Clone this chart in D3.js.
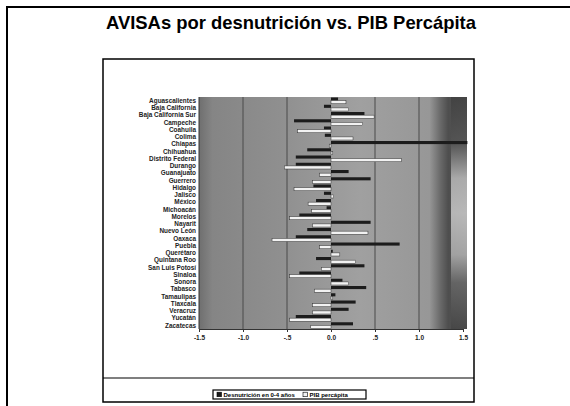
<!DOCTYPE html>
<html>
<head>
<meta charset="utf-8">
<script src="https://cdn.jsdelivr.net/npm/d3@7"></script>
<style>
  html, body { margin: 0; padding: 0; background: #fff; }
  svg { display: block; }
</style>
</head>
<body>
<svg id="chart" width="570" height="406"></svg>
<script>
// Estados de la República
const estados = [
  "Aguascalientes", "Baja California", "Baja California Sur", "Campeche",
  "Coahuila", "Colima", "Chiapas", "Chihuahua", "Distrito Federal", "Durango",
  "Guanajuato", "Guerrero", "Hidalgo", "Jalisco", "México", "Michoacán",
  "Morelos", "Nayarit", "Nuevo León", "Oaxaca", "Puebla", "Querétaro",
  "Quintana Roo", "San Luis Potosí", "Sinaloa", "Sonora", "Tabasco",
  "Tamaulipas", "Tlaxcala", "Veracruz", "Yucatán", "Zacatecas"
];

// AVISAs por desnutrición en 0-4 años (valores estandarizados)
const desnutricion = [
  0.08, -0.08, 0.38, -0.42, -0.08, -0.07, 1.55, -0.27, -0.40, -0.40,
  0.20, 0.45, -0.20, -0.08, -0.17, -0.05, -0.36, 0.45, -0.27, -0.40,
  0.78, 0.02, -0.17, 0.38, -0.36, 0.13, 0.40, 0.05, 0.28, 0.20,
  -0.40, 0.25
];

// PIB per cápita (valores estandarizados)
const pib = [
  0.17, 0.20, 0.49, 0.36, -0.38, 0.25, -0.02, 0.02, 0.80, -0.53,
  -0.13, -0.21, -0.42, 0.03, -0.26, -0.22, -0.47, -0.21, 0.42, -0.67,
  -0.13, 0.10, 0.28, -0.11, -0.47, 0.20, -0.19, 0.02, -0.21, -0.21,
  -0.47, -0.23
];

const xTicks = [-1.5, -1.0, -0.5, 0.0, 0.5, 1.0, 1.5];
const xTickLabels = ["-1.5", "-1.0", "-.5", "0.0", ".5", "1.0", "1.5"];
const series = ["Desnutrición en 0-4 años", "PIB percápita"];

const svg = d3.select("#chart");

// marco exterior
svg.append("path")
  .attr("d", "M7,406 V7 H570")
  .attr("fill", "none").attr("stroke", "#000").attr("stroke-width", 2);

// título
svg.append("text")
  .attr("x", 291).attr("y", 29)
  .attr("text-anchor", "middle")
  .attr("font-family", "'Liberation Sans', Arial, sans-serif")
  .attr("font-weight", "bold")
  .attr("font-size", 19)
  .attr("textLength", 370)
  .attr("lengthAdjust", "spacingAndGlyphs")
  .text("AVISAs por desnutrición vs. PIB Percápita");

// recuadro del gráfico
svg.append("rect")
  .attr("x", 103).attr("y", 59).attr("width", 371).attr("height", 343)
  .attr("fill", "none").attr("stroke", "#000").attr("stroke-width", 1.5);
svg.append("line")
  .attr("x1", 103).attr("x2", 474).attr("y1", 378).attr("y2", 378)
  .attr("stroke", "#000").attr("stroke-width", 1.2);

// área de trazado
const plot = { left: 199, right: 467, top: 97, bottom: 329 };

const x = d3.scaleLinear().domain([-1.5, 1.5]).range([199, 463]);
const y = d3.scaleBand().domain(estados).range([plot.top, plot.bottom]).paddingInner(0.12).paddingOuter(0.06);
const ySub = d3.scaleBand().domain(series).range([0, y.bandwidth()]).padding(0.02);

const defs = svg.append("defs");
const gH = defs.append("linearGradient").attr("id", "fondo").attr("x1", 0).attr("x2", 1).attr("y1", 0).attr("y2", 0);
[[0, "#6f6f6f"], [0.05, "#858585"], [0.3, "#8f8f8f"], [0.6, "#a0a0a0"], [0.86, "#979797"], [0.9, "#6a6a6a"], [0.93, "#4e4e4e"], [1, "#5a5a5a"]]
  .forEach(([o, c]) => gH.append("stop").attr("offset", o).attr("stop-color", c));
const gV = defs.append("linearGradient").attr("id", "banda").attr("x1", 0).attr("x2", 0).attr("y1", 0).attr("y2", 1);
[[0, "#3e3e3e"], [0.2, "#555"], [0.35, "#c6c6c6"], [0.5, "#d8d8d8"], [0.68, "#bcbcbc"], [0.8, "#6a6a6a"], [1, "#444"]]
  .forEach(([o, c]) => gV.append("stop").attr("offset", o).attr("stop-color", c));

defs.append("clipPath").attr("id", "recorte")
  .append("rect").attr("x", plot.left).attr("y", plot.top)
  .attr("width", plot.right - plot.left + 2).attr("height", plot.bottom - plot.top);

svg.append("rect")
  .attr("x", plot.left).attr("y", plot.top)
  .attr("width", plot.right - plot.left).attr("height", plot.bottom - plot.top)
  .attr("fill", "url(#fondo)");
svg.append("rect")
  .attr("x", 451).attr("y", plot.top)
  .attr("width", plot.right - 451).attr("height", plot.bottom - plot.top)
  .attr("fill", "url(#banda)").attr("opacity", 0.75);

// líneas de referencia
svg.append("g").selectAll("line")
  .data(xTicks.filter(t => Math.abs(t) > 0 && Math.abs(t) < 1.5))
  .join("line")
  .attr("x1", d => x(d)).attr("x2", d => x(d))
  .attr("y1", plot.top).attr("y2", plot.bottom)
  .attr("stroke", "#4a4a4a").attr("stroke-width", 1);

// barras
const filas = estados.map((e, i) => ({ estado: e, valores: [desnutricion[i], pib[i]] }));
const barras = svg.append("g").attr("clip-path", "url(#recorte)");
barras.selectAll("g")
  .data(filas)
  .join("g")
  .attr("transform", d => `translate(0,${y(d.estado)})`)
  .selectAll("rect")
  .data(d => d.valores.map((v, k) => ({ serie: series[k], valor: v, k })))
  .join("rect")
  .attr("x", d => x(Math.min(0, d.valor)))
  .attr("width", d => Math.abs(x(d.valor) - x(0)))
  .attr("y", d => ySub(d.serie))
  .attr("height", ySub.bandwidth())
  .attr("fill", d => d.k === 0 ? "#1c1c1c" : "#f2f2f2")
  .attr("stroke", d => d.k === 0 ? "none" : "#333")
  .attr("stroke-width", 0.5);

// eje vertical
svg.append("line")
  .attr("x1", plot.left).attr("x2", plot.left)
  .attr("y1", plot.top).attr("y2", plot.bottom)
  .attr("stroke", "#333").attr("stroke-width", 1);

svg.append("g").selectAll("text")
  .data(estados)
  .join("text")
  .attr("x", plot.left - 3)
  .attr("y", d => y(d) + y.bandwidth() / 2)
  .attr("dy", "0.35em")
  .attr("text-anchor", "end")
  .attr("font-family", "'Liberation Sans', Arial, sans-serif")
  .attr("font-weight", "bold")
  .attr("font-size", 6.4)
  .attr("fill", "#222")
  .text(d => d);

// eje horizontal
const xAxis = d3.axisBottom(x)
  .tickValues(xTicks)
  .tickFormat((d, i) => xTickLabels[i])
  .tickSize(3)
  .tickPadding(3);
const gx = svg.append("g")
  .attr("transform", `translate(0,${plot.bottom})`)
  .call(xAxis);
gx.select(".domain").attr("stroke", "#333");
gx.selectAll(".tick line").attr("stroke", "#333");
gx.selectAll(".tick text")
  .attr("font-family", "'Liberation Sans', Arial, sans-serif")
  .attr("font-weight", "bold")
  .attr("font-size", 6.5)
  .attr("fill", "#222");

// leyenda
const ley = svg.append("g").attr("transform", "translate(213,390)");
ley.append("rect").attr("width", 153).attr("height", 9)
  .attr("fill", "#fff").attr("stroke", "#000").attr("stroke-width", 1.2);
const items = [
  { t: series[0], fill: "#1c1c1c", x: 4 },
  { t: series[1], fill: "#f2f2f2", x: 90 }
];
items.forEach(it => {
  ley.append("rect").attr("x", it.x).attr("y", 2.2).attr("width", 4.5).attr("height", 4.5)
    .attr("fill", it.fill).attr("stroke", "#000").attr("stroke-width", 0.6);
  ley.append("text").attr("x", it.x + 6.5).attr("y", 6.8)
    .attr("font-family", "'Liberation Sans', Arial, sans-serif")
    .attr("font-weight", "bold").attr("font-size", 6)
    .text(it.t);
});
</script>
</body>
</html>
